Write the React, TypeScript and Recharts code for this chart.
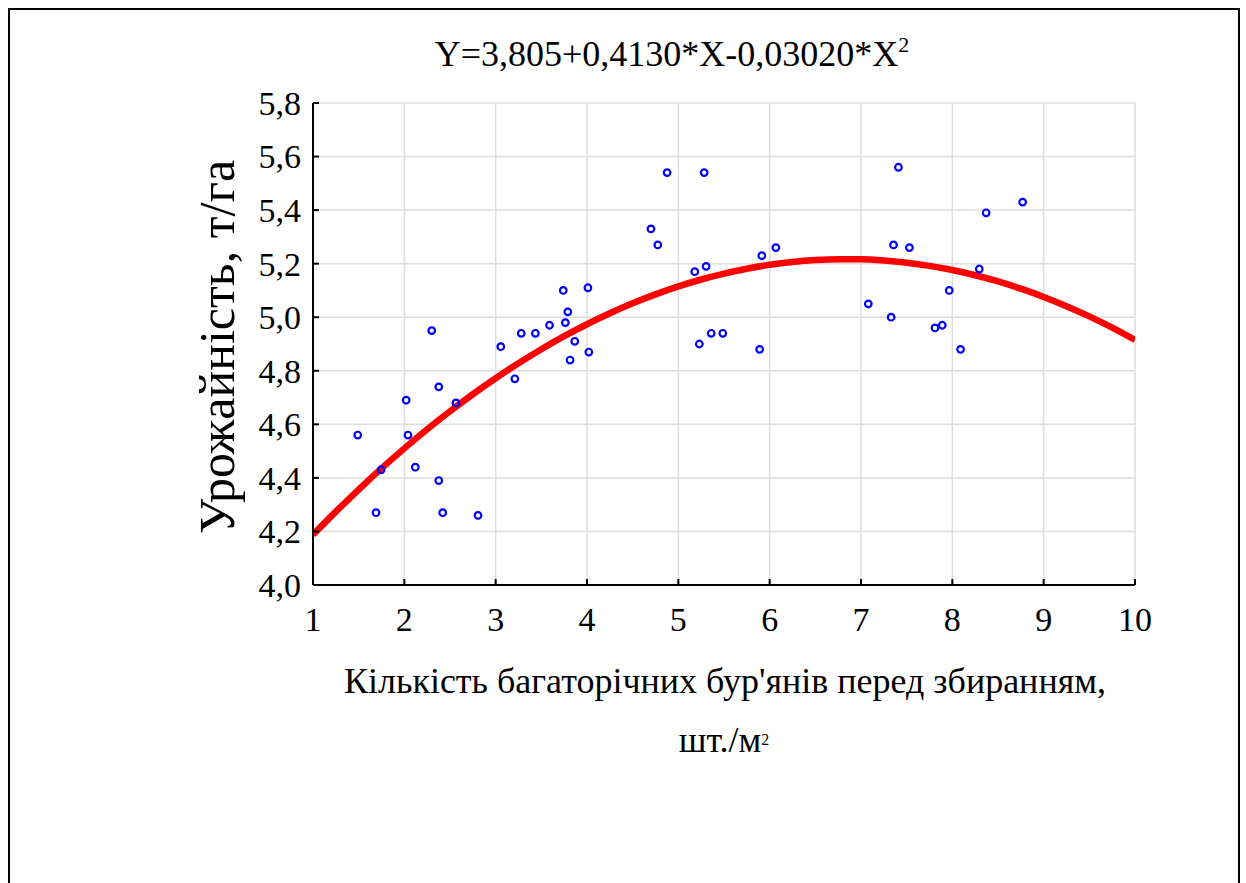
import React from 'react';
import {
  ComposedChart,
  Scatter,
  Line,
  XAxis,
  YAxis,
  CartesianGrid,
} from 'recharts';

// Weed count per m² vs yield, t/ha
const weedCounts = [
  1.49, 1.69, 1.745, 2.02, 2.04, 2.12, 2.3, 2.377, 2.377, 2.42,
  2.566, 2.807, 3.056, 3.21, 3.28, 3.435, 3.59, 3.74, 3.763, 3.79,
  3.815, 3.866, 4.01, 4.02, 4.7, 4.775, 4.877, 5.18, 5.23, 5.283,
  5.304, 5.36, 5.487, 5.89, 5.914, 6.068, 7.08, 7.33, 7.356, 7.41,
  7.53, 7.81, 7.89, 7.966, 8.09, 8.295, 8.37, 8.77,
];
const yields = [
  4.56, 4.27, 4.43, 4.69, 4.56, 4.44, 4.95, 4.74, 4.39, 4.27,
  4.68, 4.26, 4.89, 4.77, 4.94, 4.94, 4.97, 5.1, 4.98, 5.02,
  4.84, 4.91, 5.11, 4.87, 5.33, 5.27, 5.54, 5.17, 4.9, 5.54,
  5.19, 4.94, 4.94, 4.88, 5.23, 5.26, 5.05, 5.0, 5.27, 5.56,
  5.26, 4.96, 4.97, 5.1, 4.88, 5.18, 5.39, 5.43,
];

const xTicks = [1, 2, 3, 4, 5, 6, 7, 8, 9, 10];
const yTicks = [4.0, 4.2, 4.4, 4.6, 4.8, 5.0, 5.2, 5.4, 5.6, 5.8];

// regression coefficients from the title equation
const b0 = 3.805;
const b1 = 0.413;
const b2 = -0.0302;

const points = weedCounts.map((x, i) => ({ x, y: yields[i] }));

const fitCurve: { x: number; fit: number }[] = [];
for (let i = 0; i <= 36; i++) {
  const x = 1 + i * 0.25;
  fitCurve.push({ x, fit: b0 + b1 * x + b2 * x * x });
}

const FONT = '"Liberation Serif", "DejaVu Serif", serif';

const fmt = (v: number) => v.toFixed(1).replace('.', ',');

const XTick = (props: any) => {
  const { x, y, payload } = props;
  return (
    <text x={x} y={y} textAnchor="middle" fontFamily={FONT} fontSize={34} fill="#000">
      {payload.value}
    </text>
  );
};

const YTick = (props: any) => {
  const { x, y, payload } = props;
  return (
    <text x={x} y={y} dy="0.35em" textAnchor="end" fontFamily={FONT} fontSize={34} fill="#000">
      {fmt(payload.value)}
    </text>
  );
};

const Dot = (props: any) => {
  const { cx, cy } = props;
  return <circle cx={cx} cy={cy} r={3.3} fill="none" stroke="#0000ff" strokeWidth={2.2} />;
};

const axisLine = { stroke: '#000', strokeWidth: 2 };

export default function App() {
  return (
    <div style={{ position: 'absolute', left: 0, top: 0, width: 1246, height: 883, overflow: 'hidden', background: '#fff' }}>
      <div
        style={{
          position: 'absolute',
          left: 8,
          top: 8,
          width: 1228,
          height: 900,
          border: '2px solid #000',
          borderBottom: 'none',
        }}
      />
      <div style={{ position: 'absolute', left: 0, top: 0 }}>
        <ComposedChart width={1246} height={883} margin={{ top: 103, right: 111, bottom: 238, left: 253 }}>
          <CartesianGrid stroke="#dcdcdc" strokeWidth={1.5} />
          <XAxis
            dataKey="x"
            type="number"
            domain={[1, 10]}
            ticks={xTicks}
            allowDataOverflow
            height={60}
            axisLine={axisLine}
            tickLine={axisLine}
            tickSize={-6}
            tickMargin={52}
            tick={<XTick />}
          />
          <XAxis
            xAxisId="top"
            orientation="top"
            type="number"
            domain={[1, 10]}
            ticks={xTicks}
            height={0}
            axisLine={axisLine}
            tickLine={axisLine}
            tickSize={-6}
            tick={false}
          />
          <YAxis
            type="number"
            domain={[4, 5.8]}
            ticks={yTicks}
            allowDataOverflow
            width={60}
            axisLine={axisLine}
            tickLine={axisLine}
            tickSize={-6}
            tickMargin={18}
            tick={<YTick />}
          />
          <YAxis
            yAxisId="right"
            orientation="right"
            type="number"
            domain={[4, 5.8]}
            ticks={yTicks}
            width={0}
            axisLine={axisLine}
            tickLine={axisLine}
            tickSize={-6}
            tick={false}
          />
          <Scatter data={points} dataKey="y" shape={<Dot />} isAnimationActive={false} />
          <Line
            data={fitCurve}
            dataKey="fit"
            type="monotone"
            stroke="#ff0000"
            strokeWidth={6.5}
            dot={false}
            activeDot={false}
            isAnimationActive={false}
          />
        </ComposedChart>
      </div>
      <svg width={1246} height={883} style={{ position: 'absolute', left: 0, top: 0, pointerEvents: 'none' }}>
        <text x={672} y={66} textAnchor="middle" fontFamily={FONT} fontSize={36} fill="#000">
          Y=3,805+0,4130*X-0,03020*X
          <tspan fontSize={22} dy={-14}>2</tspan>
        </text>
        <text
          x={234}
          y={347}
          textAnchor="middle"
          fontFamily={FONT}
          fontSize={50}
          fill="#000"
          transform="rotate(-90, 234, 347)"
        >
          Урожайність, т/га
        </text>
        <text x={725} y={693} textAnchor="middle" fontFamily={FONT} fontSize={36} fill="#000">
          Кількість багаторічних бур'янів перед збиранням,
        </text>
        <text x={724} y={752} textAnchor="middle" fontFamily={FONT} fontSize={36} fill="#000">
          шт./м
          <tspan fontSize={16} dy={-7}>2</tspan>
        </text>
      </svg>
    </div>
  );
}
